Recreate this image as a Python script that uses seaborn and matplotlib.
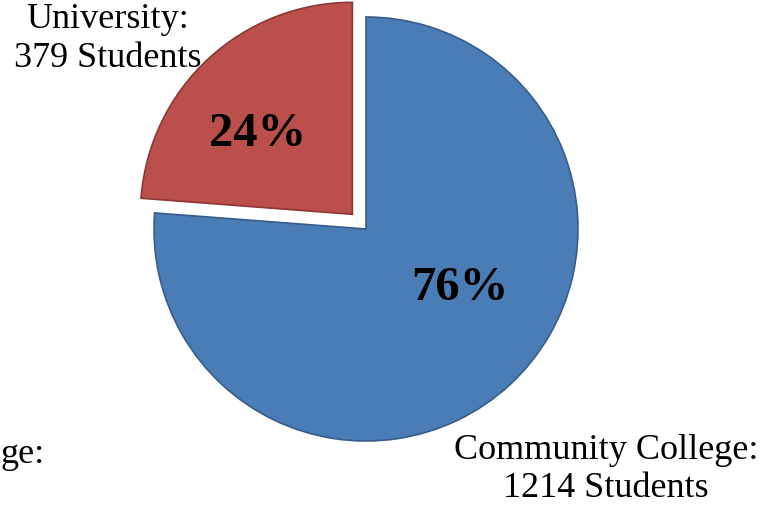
import matplotlib.pyplot as plt
import seaborn as sns

# Data
categories = ["Community College", "University"]
students = [1214, 379]
percent_labels = ["76%", "24%"]

sns.set_theme(style="white")
plt.rcParams['font.family'] = ['Liberation Serif', 'DejaVu Serif']
plt.rcParams['text.color'] = 'black'

colors = ["#4A7CB6", "#BB4F4C"]
edges = ["#385D8A", "#8C3836"]

fig = plt.figure(figsize=(7.76, 5.10), dpi=100)
ax = fig.add_axes([0, 0, 1, 1])

# pie in pixel-like data coordinates (y up); explode is in data units here
wedges, _, autotexts = ax.pie(
    students, colors=colors, startangle=90, counterclock=False,
    explode=[0, 20], center=(366, 280), radius=212,
    autopct=lambda p: f"{p:.0f}%", frame=True,
    wedgeprops=dict(linewidth=1.2),
    textprops=dict(fontsize=35, fontweight='bold', color='black'),
)
for w, ec in zip(wedges, edges):
    w.set_edgecolor(ec)

# percentage label positions
autotexts[0].set_position((460, 222))
autotexts[1].set_position((258, 376))

ax.set_xlim(0, 776)
ax.set_ylim(0, 510)
ax.set_aspect('equal')
ax.axis('off')

# category labels
ax.text(108, 471, f"{categories[1]}:\n{students[1]} Students", ha='center', va='center',
        fontsize=26, linespacing=1.25, color='black')
ax.text(606, 40, f"{categories[0]}:\n{students[0]} Students", ha='center', va='center',
        fontsize=26, linespacing=1.2, color='black')
ax.text(0, 55, "ge:", ha='left', va='center', fontsize=26, color='black')

fig.savefig("out.png", dpi=100)
plt.close(fig)
